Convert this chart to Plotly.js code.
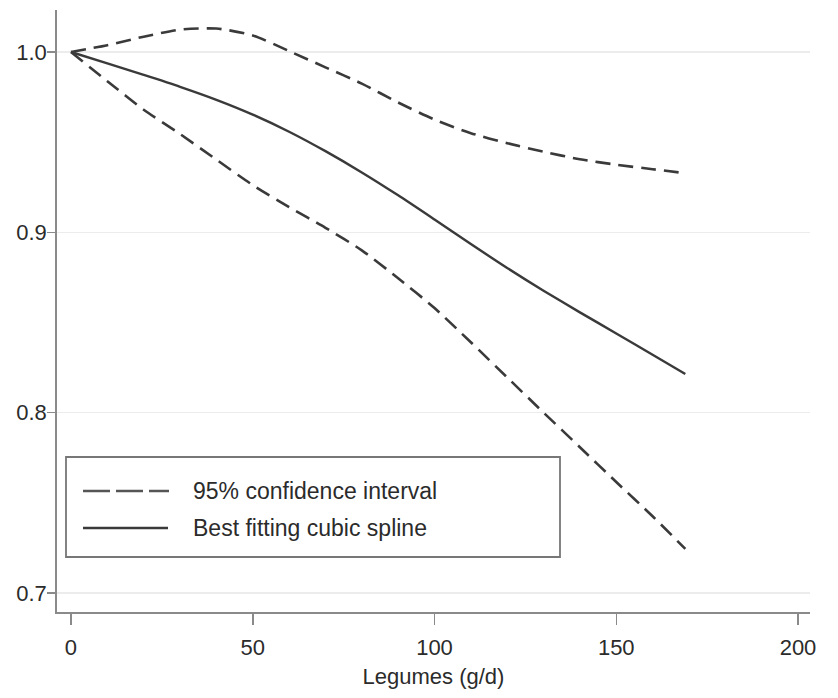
<!DOCTYPE html>
<html>
<head>
<meta charset="utf-8">
<script src="https://cdn.plot.ly/plotly-3.0.1.min.js"></script>
<style>html,body{margin:0;padding:0;background:#fff;}#chart{width:838px;height:698px;}</style>
</head>
<body>
<div id="chart"></div>
<script>
// Data
const legumes = [0, 10, 20, 30, 40, 50, 60, 70, 80, 90, 100, 110, 120, 130, 140, 150, 160, 169];
const upperCI = [1.0, 1.0038, 1.0085, 1.0124, 1.0130, 1.0092, 1.0005, 0.9915, 0.9825, 0.9720, 0.9625, 0.9550, 0.9494, 0.9447, 0.9405, 0.9375, 0.9350, 0.9328];
const bestFit = [1.0, 0.9937, 0.9873, 0.9807, 0.9735, 0.9653, 0.9558, 0.9450, 0.9332, 0.9205, 0.9071, 0.8935, 0.8802, 0.8676, 0.8556, 0.8439, 0.8321, 0.8214];
const lowerCI = [1.0, 0.9838, 0.9680, 0.9545, 0.9403, 0.9262, 0.9140, 0.9025, 0.8900, 0.8745, 0.8580, 0.8390, 0.8195, 0.8000, 0.7808, 0.7615, 0.7425, 0.7244];
const xTicks = [0, 50, 100, 150, 200];
const yTicks = [0.7, 0.8, 0.9, 1.0];
const legendLabels = ["95% confidence interval", "Best fitting cubic spline"];

const lineColor = '#3a3a3a';
const font = 'Liberation Sans, Arial, Helvetica, sans-serif';
const textColor = '#2b2b2b';

const traces = [
  {x: legumes, y: upperCI, name: legendLabels[0], mode: 'lines', showlegend: false,
   line: {color: lineColor, width: 2.6, dash: '15px,8px', shape: 'spline', smoothing: 0.7}},
  {x: legumes, y: lowerCI, name: legendLabels[0], mode: 'lines', showlegend: false,
   line: {color: lineColor, width: 2.6, dash: '15px,8px', shape: 'spline', smoothing: 0.7}},
  {x: legumes, y: bestFit, name: legendLabels[1], mode: 'lines', showlegend: false,
   line: {color: lineColor, width: 2.4, shape: 'spline', smoothing: 0.7}}
];

// legend box layout (pixel -> paper helpers)
const L = 57, R = 28, T = 10, B = 86, W = 838, H = 698;
const pw = W - L - R, ph = H - T - B;
const px = v => (v - L) / pw;
const py = v => (H - B - v) / ph;

const shapes = [
  {type: 'rect', xref: 'paper', yref: 'paper', x0: px(66), x1: px(560), y0: py(557), y1: py(457),
   line: {color: '#777', width: 1.8}, fillcolor: 'rgba(255,255,255,1)', layer: 'above'},
  {type: 'line', xref: 'paper', yref: 'paper', x0: px(83), x1: px(169), y0: py(491), y1: py(491),
   line: {color: '#555', width: 2.6, dash: '27px,6px'}, layer: 'above'},
  {type: 'line', xref: 'paper', yref: 'paper', x0: px(83), x1: px(168), y0: py(528), y1: py(528),
   line: {color: '#3a3a3a', width: 2.4}, layer: 'above'}
];
const annotations = legendLabels.map((t, i) => ({
  text: t, xref: 'paper', yref: 'paper', x: px(191), y: py(i === 0 ? 491 : 528),
  xanchor: 'left', yanchor: 'middle', showarrow: false,
  font: {family: font, size: 23, color: textColor}
}));

const layout = {
  width: W, height: H,
  margin: {l: L, r: R, t: T, b: B, pad: 0},
  paper_bgcolor: '#fff', plot_bgcolor: '#fff',
  showlegend: false,
  font: {family: font, color: textColor, size: 22},
  xaxis: {
    range: [-3.85, 203.3], tickvals: xTicks, ticktext: xTicks.map(String),
    showgrid: false, zeroline: false, showline: true, linecolor: '#8a8a8a', linewidth: 1.8,
    ticks: 'outside', ticklen: 11, tickwidth: 1.5, tickcolor: '#8a8a8a',
    ticklabelstandoff: 4,
    tickfont: {family: font, size: 22, color: textColor},
    title: {text: 'Legumes (g/d)', font: {family: font, size: 22, color: textColor}, standoff: 9}
  },
  yaxis: {
    range: [0.6894, 1.0233], tickvals: yTicks, ticktext: yTicks.map(v => v.toFixed(1)),
    showgrid: true, gridcolor: '#ececec', gridwidth: 1.5, zeroline: false,
    showline: true, linecolor: '#8a8a8a', linewidth: 1.8,
    ticks: 'outside', ticklen: 8, tickwidth: 1.5, tickcolor: '#8a8a8a',
    ticklabelstandoff: -4,
    tickfont: {family: font, size: 22, color: textColor}
  },
  shapes: shapes,
  annotations: annotations
};

Plotly.newPlot('chart', traces, layout, {staticPlot: true, displayModeBar: false});
</script>
</body>
</html>
